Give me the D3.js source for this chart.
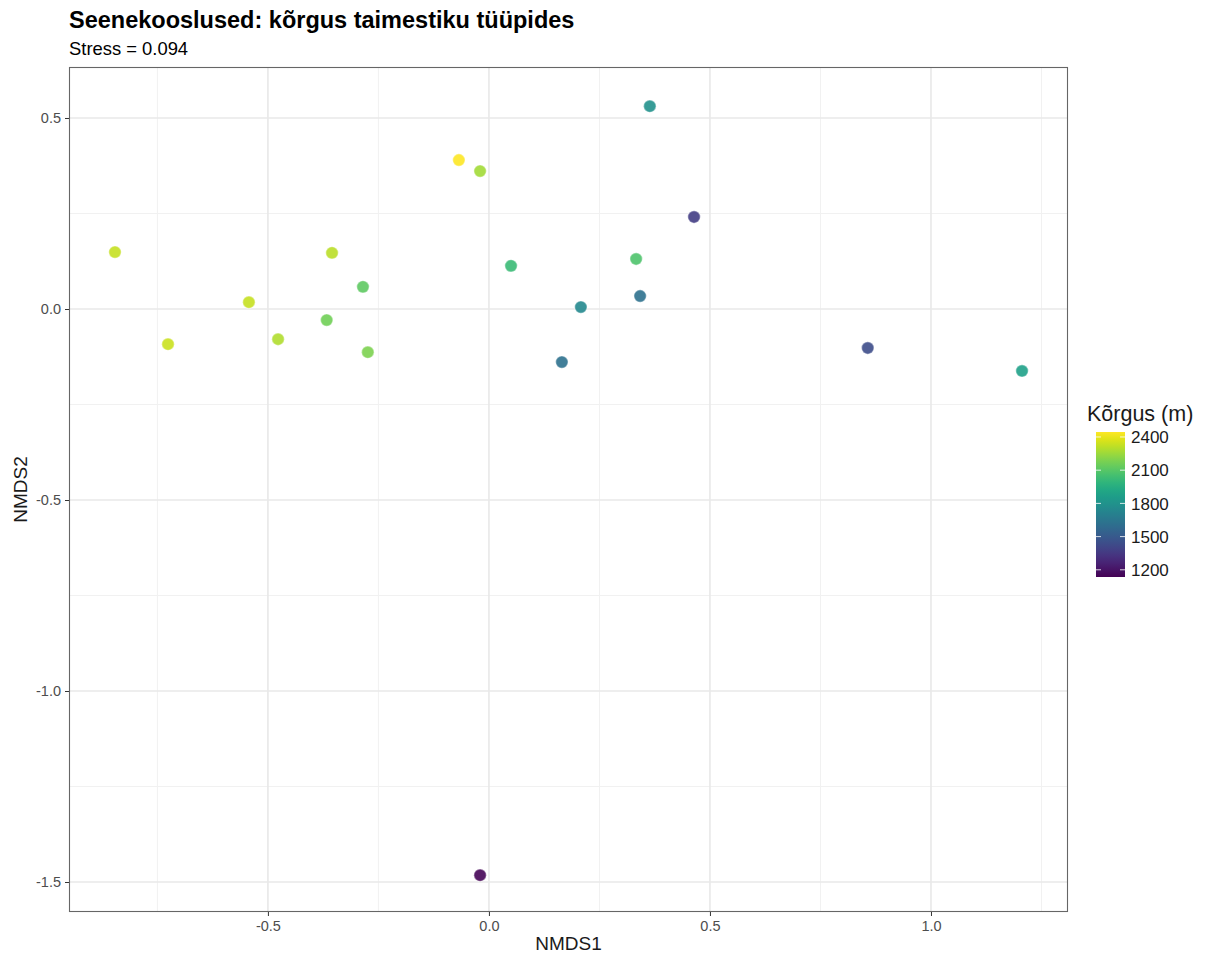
<!DOCTYPE html>
<html>
<head>
<meta charset="utf-8">
<script src="https://cdn.jsdelivr.net/npm/d3@7"></script>
<style>
  html, body { margin: 0; padding: 0; background: #fff; }
  svg { display: block; font-family: "Liberation Sans", Arial, sans-serif; }
</style>
</head>
<body>
<svg id="chart" width="1206" height="957"></svg>
<script>
// NMDS site scores and site elevation (m)
const nmds1 = [-0.846, -0.726, -0.543, -0.477, -0.355, -0.367, -0.285, -0.274, -0.068, -0.020,
                0.050,  0.364,  0.464,  0.333,  0.208,  0.342,  0.165,  0.857,  1.206, -0.020];
const nmds2 = [ 0.149, -0.092,  0.018, -0.079,  0.147, -0.029,  0.058, -0.113,  0.390,  0.361,
                0.113,  0.531,  0.241,  0.131,  0.005,  0.034, -0.139, -0.102, -0.162, -1.482];
const elevation = [2330, 2340, 2330, 2290, 2310, 2160, 2120, 2185, 2440, 2265,
                   2025, 1790, 1370, 2080, 1745, 1620, 1620, 1440, 1880, 1150];

const xTicks = [-0.5, 0.0, 0.5, 1.0];
const yTicks = [0.5, 0.0, -0.5, -1.0, -1.5];
const legendTicks = [2400, 2100, 1800, 1500, 1200];

const titleText = "Seenekooslused: kõrgus taimestiku tüüpides";
const subtitleText = "Stress = 0.094";
const xLabel = "NMDS1";
const yLabel = "NMDS2";
const legendTitle = "Kõrgus (m)";

const svg = d3.select("#chart");
const panel = { left: 69, right: 1068, top: 67, bottom: 912 };

const x = d3.scaleLinear().domain([-0.950, 1.310]).range([panel.left, panel.right]);
const y = d3.scaleLinear().domain([-1.5785, 0.6335]).range([panel.bottom, panel.top]);

const eMin = 1135, eMax = 2445;
const color = d3.scaleSequential(d3.interpolateViridis).domain([eMin, eMax]);

// panel background
svg.append("rect")
  .attr("x", panel.left).attr("y", panel.top)
  .attr("width", panel.right - panel.left).attr("height", panel.bottom - panel.top)
  .attr("fill", "#fff");

// minor grid
const xMinor = [-0.75, -0.25, 0.25, 0.75, 1.25];
const yMinor = [0.25, -0.25, -0.75, -1.25];
const grid = svg.append("g");
grid.selectAll(".xmin").data(xMinor).join("line")
  .attr("x1", d => x(d)).attr("x2", d => x(d))
  .attr("y1", panel.top).attr("y2", panel.bottom)
  .attr("stroke", "#f1f1f1").attr("stroke-width", 1);
grid.selectAll(".ymin").data(yMinor).join("line")
  .attr("y1", d => y(d)).attr("y2", d => y(d))
  .attr("x1", panel.left).attr("x2", panel.right)
  .attr("stroke", "#f1f1f1").attr("stroke-width", 1);
// major grid
grid.selectAll(".xmaj").data(xTicks).join("line")
  .attr("x1", d => x(d)).attr("x2", d => x(d))
  .attr("y1", panel.top).attr("y2", panel.bottom)
  .attr("stroke", "#e8e8e8").attr("stroke-width", 1.6);
grid.selectAll(".ymaj").data(yTicks).join("line")
  .attr("y1", d => y(d)).attr("y2", d => y(d))
  .attr("x1", panel.left).attr("x2", panel.right)
  .attr("stroke", "#e8e8e8").attr("stroke-width", 1.6);

// points: filled circles with a faint light rim
const pts = nmds1.map((v, i) => ({ x: v, y: nmds2[i], e: elevation[i] }));
svg.append("g").selectAll("circle").data(pts).join("circle")
  .attr("cx", d => x(d.x)).attr("cy", d => y(d.y)).attr("r", 6.2)
  .attr("fill", d => color(d.e)).attr("fill-opacity", 0.9)
  .attr("stroke", "#fff").attr("stroke-opacity", 0.35).attr("stroke-width", 1.4);

// panel border
svg.append("rect")
  .attr("x", panel.left + 0.5).attr("y", panel.top + 0.5)
  .attr("width", panel.right - panel.left - 1).attr("height", panel.bottom - panel.top - 1)
  .attr("fill", "none").attr("stroke", "#666").attr("stroke-width", 1.1);

// axes
const fmt = d => d.toFixed(1);
const xAxis = svg.append("g").attr("transform", `translate(0,${panel.bottom})`)
  .call(d3.axisBottom(x).tickValues(xTicks).tickFormat(fmt).tickSize(4).tickPadding(4));
const yAxis = svg.append("g").attr("transform", `translate(${panel.left},0)`)
  .call(d3.axisLeft(y).tickValues(yTicks).tickFormat(fmt).tickSize(4).tickPadding(4));
[xAxis, yAxis].forEach(a => {
  a.select(".domain").remove();
  a.selectAll(".tick line").attr("stroke", "#333").attr("stroke-width", 1);
  a.selectAll(".tick text").attr("fill", "#4d4d4d").attr("font-size", 14.5)
    .attr("font-family", "Liberation Sans, Arial, sans-serif");
});
xAxis.selectAll(".tick text").attr("dy", "0.71em").attr("y", 9);

// axis titles
svg.append("text").attr("x", (panel.left + panel.right) / 2).attr("y", 950)
  .attr("text-anchor", "middle").attr("font-size", 19).attr("fill", "#1a1a1a").text(xLabel);
svg.append("text").attr("transform", `translate(27,${(panel.top + panel.bottom) / 2}) rotate(-90)`)
  .attr("text-anchor", "middle").attr("font-size", 19).attr("fill", "#1a1a1a").text(yLabel);

// title & subtitle
svg.append("text").attr("x", 69).attr("y", 28).attr("font-size", 23.5).attr("font-weight", "bold")
  .attr("fill", "#000").text(titleText);
svg.append("text").attr("x", 69).attr("y", 55).attr("font-size", 18.4)
  .attr("fill", "#000").text(subtitleText);

// colour bar legend
const lg = { x: 1096, w: 29, top: 432, bottom: 577 };
const ly = d3.scaleLinear().domain([eMin, eMax]).range([lg.bottom, lg.top]);
const defs = svg.append("defs");
const grad = defs.append("linearGradient").attr("id", "viridisBar")
  .attr("x1", 0).attr("y1", 1).attr("x2", 0).attr("y2", 0);
d3.range(0, 1.0001, 0.05).forEach(t => {
  grad.append("stop").attr("offset", t).attr("stop-color", d3.interpolateViridis(t));
});
svg.append("rect").attr("x", lg.x).attr("y", lg.top).attr("width", lg.w)
  .attr("height", lg.bottom - lg.top).attr("fill", "url(#viridisBar)");
const lt = svg.append("g");
lt.selectAll(".tl").data(legendTicks).join("line")
  .attr("x1", lg.x).attr("x2", lg.x + 5).attr("y1", d => ly(d)).attr("y2", d => ly(d))
  .attr("stroke", "#fff").attr("stroke-opacity", 0.8);
lt.selectAll(".tr").data(legendTicks).join("line")
  .attr("x1", lg.x + lg.w - 5).attr("x2", lg.x + lg.w).attr("y1", d => ly(d)).attr("y2", d => ly(d))
  .attr("stroke", "#fff").attr("stroke-opacity", 0.8);
lt.selectAll("text").data(legendTicks).join("text")
  .attr("x", lg.x + lg.w + 6).attr("y", d => ly(d)).attr("dy", "0.36em")
  .attr("font-size", 17).attr("fill", "#1a1a1a").text(d => d);
svg.append("text").attr("x", 1087).attr("y", 421).attr("font-size", 21.5)
  .attr("fill", "#1a1a1a").text(legendTitle);
</script>
</body>
</html>
